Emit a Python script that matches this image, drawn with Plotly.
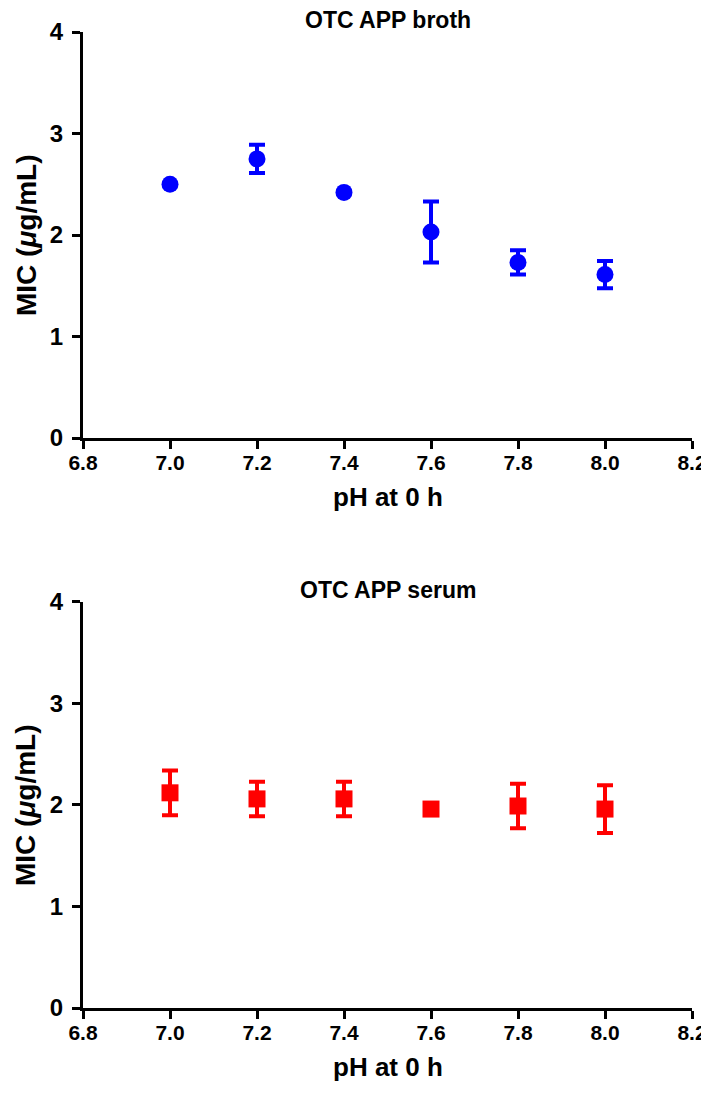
import plotly.graph_objects as go

ph = [7.0, 7.2, 7.4, 7.6, 7.8, 8.0]
broth_mic = [2.50, 2.75, 2.42, 2.03, 1.73, 1.61]
broth_sd = [0.0, 0.14, 0.0, 0.30, 0.12, 0.135]
serum_mic = [2.12, 2.06, 2.06, 1.96, 1.99, 1.96]
serum_sd = [0.22, 0.17, 0.17, 0.05, 0.22, 0.235]
x_ticks = [6.8, 7.0, 7.2, 7.4, 7.6, 7.8, 8.0, 8.2]
x_ticklabels = ["6.8", "7.0", "7.2", "7.4", "7.6", "7.8", "8.0", "8.2"]
y_ticks = [0, 1, 2, 3, 4]

FONT = "Liberation Sans, Arial, sans-serif"

TOP_DOM = [0.584, 1.0]
BOT_DOM = [0.0, 0.416]

fig = go.Figure()
fig.add_trace(go.Scatter(
    x=ph, y=broth_mic, mode="markers", xaxis="x", yaxis="y",
    marker=dict(symbol="circle", size=17, color="#0000FF"),
    error_y=dict(type="data", array=broth_sd, visible=True, color="#0000FF",
                 thickness=4, width=8),
    showlegend=False))
fig.add_trace(go.Scatter(
    x=ph, y=serum_mic, mode="markers", xaxis="x2", yaxis="y2",
    marker=dict(symbol="square", size=17, color="#FF0000"),
    error_y=dict(type="data", array=serum_sd, visible=True, color="#FF0000",
                 thickness=4, width=8),
    showlegend=False))

axis_common = dict(showline=True, linecolor="black", linewidth=3,
                   ticks="outside", ticklen=8, tickwidth=3, tickcolor="black",
                   showgrid=False, zeroline=False, automargin=False,
                   ticklabeloverflow="allow")

xax = dict(range=[6.8, 8.2], tickvals=x_ticks, ticktext=x_ticklabels, ticklabelstandoff=-4,
           tickfont=dict(family=FONT, size=21, color="black", weight="bold"), **axis_common)
yax = dict(range=[0, 4], tickvals=y_ticks, ticklabelstandoff=4,
           tickfont=dict(family=FONT, size=24, color="black", weight="bold"), **axis_common)

title_font = dict(family=FONT, size=23, color="black")
axis_title_font = dict(family=FONT, size=26, color="black")
ytitle_font = dict(family=FONT, size=28, color="black")

annotations = []
for dom, name in [(TOP_DOM, "OTC APP broth"), (BOT_DOM, "OTC APP serum")]:
    annotations.append(dict(text=f"<b>{name}</b>", x=0.5, y=dom[1], xref="paper", yref="paper",
                            xanchor="center", yanchor="middle", yshift=12, showarrow=False,
                            font=title_font))
    annotations.append(dict(text="<b>pH at 0 h</b>", x=0.5, y=dom[0], xref="paper", yref="paper",
                            xanchor="center", yanchor="middle", yshift=-59, showarrow=False,
                            font=axis_title_font))
    annotations.append(dict(text="<b>MIC (<i>μ</i>g/mL)</b>", x=0, y=(dom[0] + dom[1]) / 2,
                            xref="paper", yref="paper", xanchor="center", yanchor="middle",
                            xshift=-57, textangle=-90, showarrow=False, font=ytitle_font))

# The page body has an 8px default margin, so the figure is drawn 8px smaller
fig.update_layout(
    width=701, height=1087,
    margin=dict(l=75, r=17, t=24, b=87),
    plot_bgcolor="white", paper_bgcolor="white",
    xaxis=dict(domain=[0, 1], anchor="y", **xax),
    yaxis=dict(domain=TOP_DOM, anchor="x", **yax),
    xaxis2=dict(domain=[0, 1], anchor="y2", **xax),
    yaxis2=dict(domain=BOT_DOM, anchor="x2", **yax),
    annotations=annotations,
)

fig.write_html("out.html")
